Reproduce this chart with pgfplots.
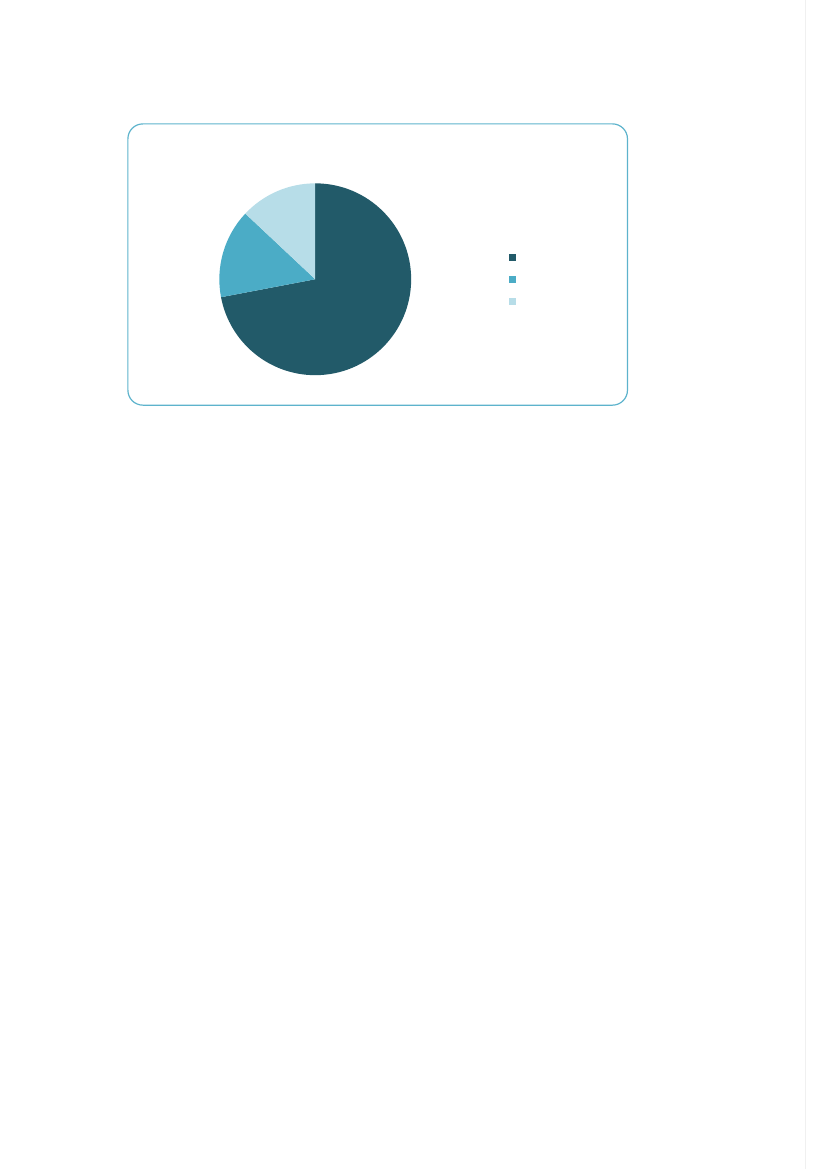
\documentclass[border=0pt]{standalone}
\usepackage{pgfplots}
\usepackage{pgfplotstable}
\pgfplotsset{compat=1.18}

\definecolor{pieA}{HTML}{225A69}
\definecolor{pieB}{HTML}{4BACC6}
\definecolor{pieC}{HTML}{B7DDE8}
\definecolor{frame}{HTML}{5DB3CC}

% share of each slice, in percent, clockwise from 12 o'clock
\pgfplotstableread{
value
72
15
13
}\piedata

\begin{document}
\begin{tikzpicture}[x=0.5pt, y=-0.5pt]
  % page, 827 x 1169 px
  \path (0,0) rectangle (827,1169);
  \draw[gray!12, line width=0.5pt] (806,0) -- (806,1169);
  % chart area
  \draw[frame, line width=0.6pt, rounded corners=7.5pt] (128,123.5) rectangle (628,405);

  \pgfplotstablegetelem{0}{value}\of\piedata \pgfmathsetmacro\va{\pgfplotsretval}
  \pgfplotstablegetelem{1}{value}\of\piedata \pgfmathsetmacro\vb{\pgfplotsretval}
  \pgfplotstablegetelem{2}{value}\of\piedata \pgfmathsetmacro\vc{\pgfplotsretval}
  \pgfmathsetmacro\aA{90-3.6*\va}
  \pgfmathsetmacro\aB{\aA-3.6*\vb}
  \pgfmathsetmacro\aC{\aB-3.6*\vc}
  \pgfmathsetmacro\xA{cos(\aA)}\pgfmathsetmacro\yA{sin(\aA)}
  \pgfmathsetmacro\xB{cos(\aB)}\pgfmathsetmacro\yB{sin(\aB)}

  % pie centre at (315.5px, 279px) of the page
  \begin{axis}[
      at={(157.75pt,-139.5pt)}, anchor=center,
      x=48pt, y=48pt,
      xmin=-1.1, xmax=1.1, ymin=-1.1, ymax=1.1,
      hide axis, clip=false,
      legend style={at={(1.44,0.5)}, anchor=center, draw=none, fill=none,
        nodes={inner sep=0pt, minimum height=11pt},
        /tikz/every even column/.append style={column sep=0pt}},
      legend image code/.code={\fill[#1] (0pt,-1.5pt) rectangle (3pt,1.5pt);},
    ]
    \fill[pieA] (axis cs:0,0) -- (axis cs:0,1) arc[start angle=90, end angle=\aA, radius=48pt] -- cycle;
    \fill[pieB] (axis cs:0,0) -- (axis cs:\xA,\yA) arc[start angle=\aA, end angle=\aB, radius=48pt] -- cycle;
    \fill[pieC] (axis cs:0,0) -- (axis cs:\xB,\yB) arc[start angle=\aB, end angle=\aC, radius=48pt] -- cycle;
    \addlegendimage{pieA}\addlegendentry{\mbox{}}
    \addlegendimage{pieB}\addlegendentry{\mbox{}}
    \addlegendimage{pieC}\addlegendentry{\mbox{}}
  \end{axis}
\end{tikzpicture}
\end{document}
